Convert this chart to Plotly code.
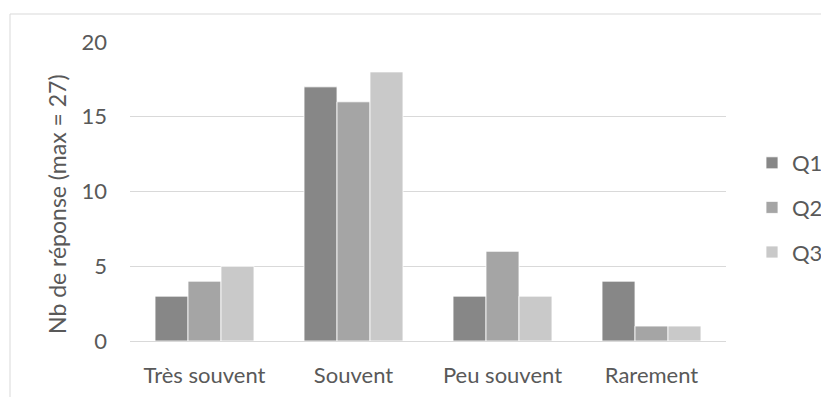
import plotly.graph_objects as go

categories = ["Très souvent", "Souvent", "Peu souvent", "Rarement"]
q1 = [3, 17, 3, 4]
q2 = [4, 16, 6, 1]
q3 = [5, 18, 3, 1]
series_names = ["Q1", "Q2", "Q3"]
series_colors = ["#878787", "#a5a5a5", "#c9c9c9"]
y_ticks = [0, 5, 10, 15, 20]
y_title = "Nb de réponse (max = 27)"

OFF = 8  # page body margin in the browser
W, H = 829 - OFF, 397 - OFF
# target plot area in screen pixels: x 130..726, y 42..341
L = 130 - OFF
T = 42 - OFF
R = W - (726 - OFF)
B = H - (341 - OFF)
pw, ph = W - L - R, H - T - B

fig = go.Figure()
for name, vals, col in zip(series_names, [q1, q2, q3], series_colors):
    fig.add_trace(go.Bar(
        x=categories, y=vals, name=name, legendgroup=name,
        marker=dict(color=col, line=dict(color="white", width=0.8)),
    ))

font = dict(family="Lato, Calibri, sans-serif", size=22, color="#595959")
title_font = dict(family="Lato, Calibri, sans-serif", size=23, color="#595959")

def sx(px):  # screen px -> paper x
    return (px - OFF - L) / pw

def sy(py):  # screen px -> paper y
    return (H - B - (py - OFF)) / ph

fig.update_layout(
    width=W, height=H,
    margin=dict(l=L, r=R, t=T, b=B, autoexpand=False),
    paper_bgcolor="white", plot_bgcolor="white",
    font=font,
    barmode="group", bargap=0.336, bargroupgap=0,
    showlegend=True,
    legend=dict(
        x=sx(752), xanchor="left",
        y=sy(142), yanchor="top",
        tracegroupgap=13, font=font, bgcolor="rgba(0,0,0,0)",
    ),
    xaxis=dict(
        showgrid=False, showline=True, linecolor="#d9d9d9", linewidth=1,
        ticks="", ticklabelstandoff=15, tickfont=font, automargin=False,
    ),
    yaxis=dict(
        range=[0, 20], tickvals=y_ticks, showgrid=True, gridcolor="#d9d9d9",
        gridwidth=1, zeroline=False, showline=False, ticks="",
        ticklabelstandoff=22, tickfont=font, automargin=False,
    ),
    annotations=[dict(
        text=y_title, textangle=-90, xref="paper", yref="paper",
        x=sx(57), y=sy(204), xanchor="center", yanchor="middle",
        showarrow=False, font=title_font,
    )],
    shapes=[dict(
        type="rect", xref="paper", yref="paper",
        x0=sx(10), x1=sx(850),
        y0=sy(420), y1=sy(14),
        line=dict(color="#d9d9d9", width=1), fillcolor="rgba(0,0,0,0)", layer="below",
    )],
)

fig.write_html("out.html")
